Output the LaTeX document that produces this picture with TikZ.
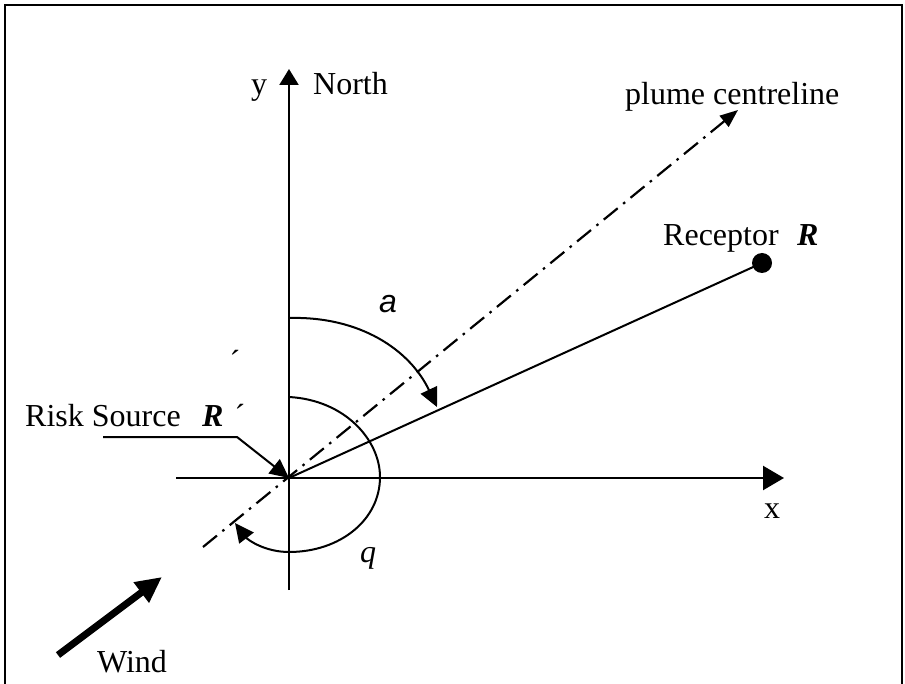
\documentclass[tikz,border=0pt]{standalone}
\usepackage{fontspec}
\setmainfont{Liberation Serif}
\newfontfamily\sansf{Liberation Sans}
\usetikzlibrary{arrows.meta}
\begin{document}
\begin{tikzpicture}[x=1pt,y=-1pt,
  every node/.style={inner sep=0pt,font=\fontsize{32}{38}\selectfont},
  axis/.style={line width=2.3pt},
  thin line/.style={line width=2pt},
  plume/.style={line width=2.2pt,dash pattern=on 18pt off 7pt on 2.5pt off 7pt},
  tipbig/.style={-{Triangle[length=21pt,width=24pt]}},
  tipmid/.style={-{Triangle[length=19pt,width=18pt]}},
  tipsmall/.style={-{Triangle[length=18pt,width=14pt]}},
  frame/.style={line width=2.2pt}]
\useasboundingbox (0,0) rectangle (905,684);
% frame
\draw[frame] (5,684) -- (5,5) -- (902,5) -- (902,684);
% coordinates
\coordinate (O) at (289,478);
\coordinate (xl) at (176,478);
\coordinate (xr) at (784,478);
\coordinate (yb) at (289,590);
\coordinate (yt) at (289,69);
\coordinate (pl) at (203,547);
\coordinate (pt) at (738,110);
\coordinate (rec) at (762,263);
\coordinate (rs1) at (103,437);
\coordinate (rs2) at (237,437);
\coordinate (aS) at (289,318);
\coordinate (aE) at (437,407);
\coordinate (qS) at (289,397);
\coordinate (qR) at (380,477);
\coordinate (qB) at (289,552);
\coordinate (qE) at (235,523);
\coordinate (w1) at (58,655);
\coordinate (w2) at (162,577);
% axes
\draw[axis,tipbig] (xl) -- (xr);
\draw[axis,-{Triangle[length=16pt,width=19pt]}] (yb) -- (yt);
% plume centreline
\draw[plume,tipsmall] (pl) -- (pt);
% receptor line and dot
\draw[thin line] (O) -- (rec);
\fill (rec) circle (10pt);
% alpha arc
\draw[thin line,tipmid] (aS) .. controls (360,316) and (410,350) .. (aE);
% theta arc
\draw[thin line,tipmid] (qS) .. controls (345,400) and (380,440) .. (qR)
  .. controls (380,520) and (340,552) .. (qB)
  .. controls (265,552) and (248,540) .. (qE);
% risk source pointer
\draw[thin line,tipmid] (rs1) -- (rs2) -- (O);
% wind arrow
\draw[line width=7pt,-{Triangle[length=26pt,width=24pt]}] (w1) -- (w2);
% labels
\node[anchor=base] (ylab) at (259,95) {y};
\node[anchor=base west] (north) at (313,95) {North};
\node[anchor=base west] (plab) at (625,105) {plume centreline};
\node[anchor=base west] (reclab) at (663,246) {Receptor};
\node[anchor=base west] (recR) at (797,246) {\textbf{\textit{R}}};
\node[anchor=base] (xlab) at (772,518) {x};
\node[anchor=base west] (rslab) at (25,427) {Risk Source};
\node[anchor=base west] (rsR) at (202,427) {\textbf{\textit{R}}};
\node[anchor=base] (acc1) at (240,427) {´};
\node[anchor=base] (acc2) at (235,373) {´};
\node[anchor=base] (alab) at (388,313) {\sansf\itshape a};
\node[anchor=base] (qlab) at (368,562) {\itshape q};
\node[anchor=base] (wlab) at (132,672) {Wind};
\end{tikzpicture}
\end{document}
